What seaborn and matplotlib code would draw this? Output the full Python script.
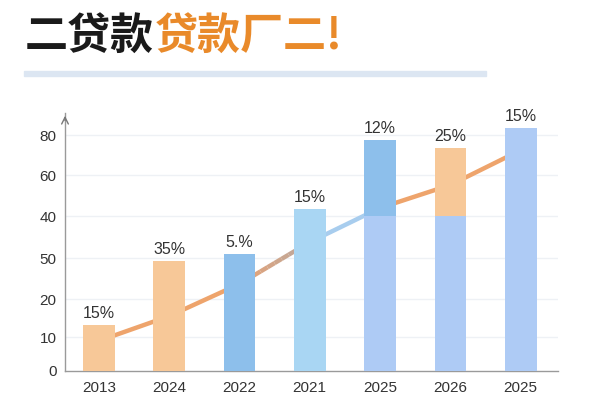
import matplotlib
matplotlib.use("Agg")
import matplotlib.pyplot as plt
import seaborn as sns
import pandas as pd
import numpy as np
from matplotlib.patches import Rectangle

# ---- data ----
years = ["2013", "2024", "2022", "2021", "2025", "2026", "2025"]
bar_total = [15.6, 37.3, 39.7, 54.9, 78.3, 75.6, 82.4]
bar_base = [15.6, 37.3, 39.7, 54.9, 52.5, 52.5, 82.4]
bar_labels = ["15%", "35%", "5.%", "15%", "12%", "25%", "15%"]
line_vals = [10.2, 18.6, 29.5, 43.7, 55.3, 63.1, 74.9]
ytick_pos = [0, 11.5, 24.4, 38.3, 52.5, 66.4, 80]
ytick_labels = ["0", "10", "20", "50", "40", "60", "80"]
title_black = "二贷款"
title_orange = "贷款厂二!"

# ---- styles ----
PEACH = "#F7C898"
BLUE = "#8DBFEB"
SKY = "#A9D6F3"
LIGHT = "#AECBF5"
top_colors = [PEACH, PEACH, BLUE, SKY, BLUE, PEACH, LIGHT]
base_colors = [PEACH, PEACH, BLUE, SKY, LIGHT, LIGHT, LIGHT]
LINE_OR = "#EEA46C"
LINE_BL = "#A8CDEE"
seg_colors = [LINE_OR, LINE_OR, None, LINE_BL, LINE_OR, LINE_OR]

sns.set_theme(style="white")
plt.rcParams['font.family'] = ['Liberation Sans', 'Noto Sans CJK SC', 'DejaVu Sans']

fig = plt.figure(figsize=(6, 4), dpi=100)
fig.patch.set_facecolor("white")
ax = fig.add_axes([65/600, 29/400, (558-65)/600, (371-113)/400])

idx = list(range(len(years)))
df = pd.DataFrame({"i": idx, "total": bar_total, "base": bar_base})

# grid
for p in ytick_pos[1:]:
    ax.axhline(p, color="#EEF1F5", lw=1, zorder=0)

# line (behind bars)
for k in range(len(idx) - 1):
    x0, x1 = idx[k], idx[k + 1]
    y0, y1 = line_vals[k], line_vals[k + 1]
    if seg_colors[k] is None:
        n = 10
        c0 = np.array(matplotlib.colors.to_rgb("#E9A272"))
        c1 = np.array(matplotlib.colors.to_rgb("#B8A9A2"))
        for j in range(n):
            t0, t1 = j / n, (j + 1) / n
            ax.plot([x0 + (x1 - x0) * t0, x0 + (x1 - x0) * t1],
                    [y0 + (y1 - y0) * t0, y0 + (y1 - y0) * t1],
                    color=c0 + (c1 - c0) * (t0 + t1) / 2, lw=3.2,
                    solid_capstyle="butt", zorder=1)
    else:
        ax.plot([x0, x1], [y0, y1], color=seg_colors[k], lw=3.2,
                solid_capstyle="round", zorder=1)

sns.barplot(data=df, x="i", y="total", hue="i", palette=top_colors,
            legend=False, width=0.45, ax=ax, zorder=2, saturation=1,
            linewidth=0, edgecolor="none")
sns.barplot(data=df, x="i", y="base", hue="i", palette=base_colors,
            legend=False, width=0.45, ax=ax, zorder=3, saturation=1,
            linewidth=0, edgecolor="none")

for i, (v, lab) in enumerate(zip(bar_total, bar_labels)):
    ax.annotate(lab, (i, v), xytext=(0, 3), textcoords="offset points",
                ha="center", va="bottom", fontsize=11.5, color="#333333")

ax.set_xlim(-0.48, 6.53)
ax.set_ylim(0, 87.5)
ax.set_yticks(ytick_pos)
ax.set_yticklabels(ytick_labels)
ax.set_xticks(idx)
ax.set_xticklabels(years)
ax.set_xlabel("")
ax.set_ylabel("")
ax.tick_params(axis="both", length=0, labelsize=11, colors="#333333")
ax.tick_params(axis="y", pad=6)
ax.tick_params(axis="x", pad=7)
for s in ["top", "right"]:
    ax.spines[s].set_visible(False)
for s in ["left", "bottom"]:
    ax.spines[s].set_color("#9A9A9A")
    ax.spines[s].set_linewidth(1)
ax.annotate("", xy=(0, 1.0), xytext=(0, 0.96), xycoords="axes fraction",
            arrowprops=dict(arrowstyle="->", color="#777777", lw=1))

# title
fig.text(25/600, 1 - 36/400, title_black, fontsize=31, fontweight="bold",
         color="#1A1A1A", va="center", ha="left",
         family=["Noto Sans CJK SC", "DejaVu Sans"])
fig.text(155/600, 1 - 36/400, title_orange, fontsize=31, fontweight="bold",
         color="#E98A2A", va="center", ha="left",
         family=["Noto Sans CJK SC", "DejaVu Sans"])
fig.patches.append(Rectangle((24/600, 1 - 76/400), (486-24)/600, 5/400,
                             transform=fig.transFigure, color="#DCE6F2",
                             zorder=0))

fig.savefig("out.png", dpi=100)
